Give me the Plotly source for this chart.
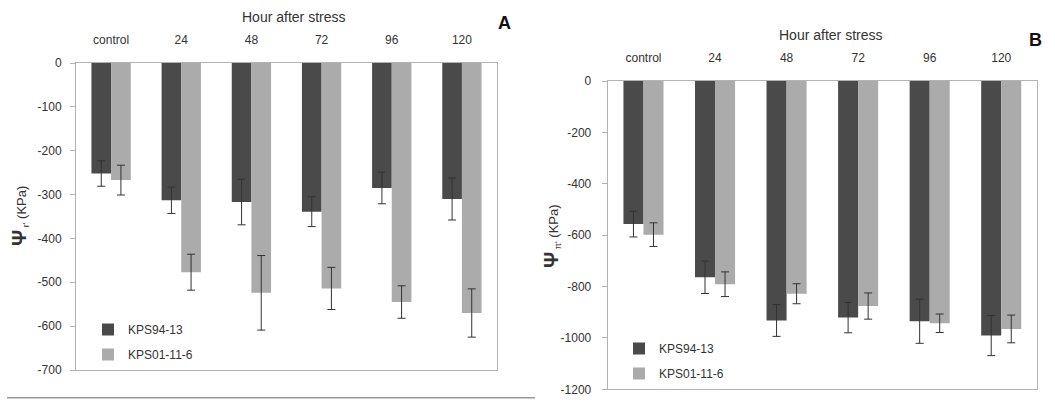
import plotly.graph_objects as go

categories = ["control", "24", "48", "72", "96", "120"]
series_names = ["KPS94-13", "KPS01-11-6"]

# Panel A: Psi_r (KPa)
a_kps94 = [-252, -313, -317, -339, -285, -310]
a_kps94_err = [29, 30, 52, 34, 36, 48]
a_kps01 = [-267, -477, -524, -514, -545, -570]
a_kps01_err = [34, 41, 85, 48, 37, 55]

# Panel B: Psi_pi (KPa)
b_kps94 = [-557, -764, -932, -921, -935, -991]
b_kps94_err = [50, 63, 62, 59, 86, 78]
b_kps01 = [-598, -791, -828, -876, -943, -965]
b_kps01_err = [46, 48, 39, 51, 36, 54]

a_yticks = [0, -100, -200, -300, -400, -500, -600, -700]
a_yticklabels = ["0", "-100", "-200", "-300", "-400", "-500", "-600", "-700"]
b_yticks = [0, -200, -400, -600, -800, -1000, -1200]
b_yticklabels = ["0", "-200", "-400", "-600", "-800", "-1000", "-1200"]

W, H = 1055, 409
DARK = "#4a4a4a"
LIGHT = "#ababab"
ERR = "#333333"
FONT = "Liberation Sans, Arial, sans-serif"
TXT = "#333333"


def px(x):
    return x / W


def py(y):
    return 1 - y / H


fig = go.Figure()

panels = [
    ("x", "y", "legend", a_kps94, a_kps94_err, a_kps01, a_kps01_err),
    ("x2", "y2", "legend2", b_kps94, b_kps94_err, b_kps01, b_kps01_err),
]
for i, (xa, ya, lg, v1, e1, v2, e2) in enumerate(panels):
    for j, (vals, errs, col) in enumerate([(v1, e1, DARK), (v2, e2, LIGHT)]):
        fig.add_trace(go.Bar(
            x=categories, y=vals, name=series_names[j],
            marker=dict(color=col, line=dict(width=0)),
            error_y=dict(type="data", array=errs, visible=True,
                         thickness=1, width=4, color=ERR),
            xaxis=xa, yaxis=ya, legend=lg,
            legendgroup=f"g{i}{j}",
        ))

axis_common = dict(showgrid=False, zeroline=False, showline=True, mirror=True,
                   linecolor="#b3b3b3", linewidth=1, automargin=False,
                   tickfont=dict(family=FONT, size=12, color=TXT))

fig.update_layout(
    width=W, height=H,
    margin=dict(l=0, r=0, t=0, b=0, autoexpand=False),
    paper_bgcolor="white", plot_bgcolor="white",
    barmode="group", bargap=0.44, bargroupgap=0.0,
    showlegend=True,
    xaxis=dict(domain=[px(76), px(497)], anchor="y", side="top",
               ticks="", ticklabelstandoff=13, **axis_common),
    yaxis=dict(domain=[py(370), py(63)], anchor="x", range=[-700, 0],
               tickvals=a_yticks, ticktext=a_yticklabels,
               ticks="outside", ticklen=5, tickcolor="#b3b3b3",
               ticklabelstandoff=6, **axis_common),
    xaxis2=dict(domain=[px(607.7), px(1037)], anchor="y2", side="top",
                ticks="", ticklabelstandoff=13, **axis_common),
    yaxis2=dict(domain=[py(389.3), py(81)], anchor="x2", range=[-1200, 0],
                tickvals=b_yticks, ticktext=b_yticklabels,
                ticks="outside", ticklen=5, tickcolor="#b3b3b3",
                ticklabelstandoff=8, **axis_common),
    legend=dict(x=px(88), y=py(315), xanchor="left", yanchor="top",
                bgcolor="rgba(0,0,0,0)", tracegroupgap=6, traceorder="grouped",
                font=dict(family=FONT, size=12, color=TXT)),
    legend2=dict(x=px(619), y=py(334), xanchor="left", yanchor="top",
                 bgcolor="rgba(0,0,0,0)", tracegroupgap=6, traceorder="grouped",
                 font=dict(family=FONT, size=12, color=TXT)),
)

ann_font = dict(family=FONT, size=14, color=TXT)
ytitle_a = "<span style='font-size:20px'><b>Ψ</b></span><sub> r'</sub> <span style='font-size:13px'>(KPa)</span>"
ytitle_b = "<span style='font-size:20px'><b>Ψ</b></span><sub> π'</sub> <span style='font-size:13px'>(KPa)</span>"
annotations = [
    dict(text="Hour after stress", x=px(293), y=py(17.3), font=ann_font),
    dict(text="Hour after stress", x=px(830), y=py(35), font=ann_font),
    dict(text="<b>A</b>", x=px(504), y=py(22.7), font=dict(family=FONT, size=18, color="#111")),
    dict(text="<b>B</b>", x=px(1035), y=py(40), font=dict(family=FONT, size=18, color="#111")),
    dict(text=ytitle_a, x=px(19), y=py(216), textangle=-90, font=dict(family=FONT, size=13, color=TXT)),
    dict(text=ytitle_b, x=px(551), y=py(236), textangle=-90, font=dict(family=FONT, size=13, color=TXT)),
]
for a in annotations:
    a.update(xref="paper", yref="paper", showarrow=False, xanchor="center", yanchor="middle")
fig.update_layout(annotations=annotations)

fig.add_shape(type="line", xref="paper", yref="paper",
              x0=px(7), x1=px(535), y0=py(397.7), y1=py(397.7),
              line=dict(color="#9a9a9a", width=1.5))

fig.write_html("out.html",
               config={"displayModeBar": False},
               post_script="document.body.style.margin='0';document.body.style.overflow='hidden';")
